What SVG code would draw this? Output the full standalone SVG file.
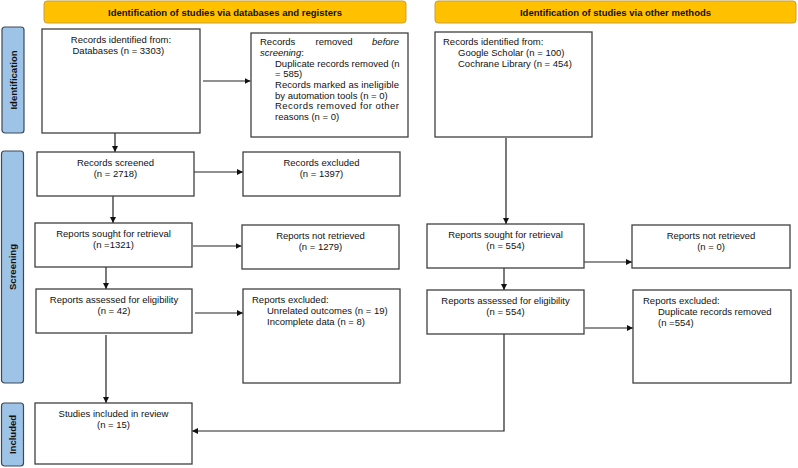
<svg xmlns="http://www.w3.org/2000/svg" width="798" height="468" viewBox="0 0 798 468">
<style>
text{font-family:"Liberation Sans",Arial,sans-serif;font-size:9.5px;fill:#111}
.b{font-weight:bold}
.c{text-anchor:middle}
.e{text-anchor:end}
.hdr{fill:#FFC000;stroke:#C9A03A;stroke-width:1}
.side{fill:#9DC3E6;stroke:#3C4A58;stroke-width:1.2}
.box{fill:#fff;stroke:#404040;stroke-width:1.3}
.ln{fill:none;stroke:#222;stroke-width:1.2}
</style>
<defs>
<marker id="ah" markerWidth="6" markerHeight="6" refX="6" refY="3" orient="auto" markerUnits="userSpaceOnUse">
<path d="M0,0 L6,3 L0,6 Z" fill="#111"/>
</marker>
</defs>
<rect width="798" height="468" fill="#fff"/>

<g id="header-left"><rect class="hdr" x="44" y="1" width="362" height="22" rx="3"/><text class="b c" x="225" y="15.5">Identification of studies via databases and registers</text></g>
<g id="header-right"><rect class="hdr" x="435" y="1" width="361" height="22" rx="3"/><text class="b c" x="615.5" y="15.5">Identification of studies via other methods</text></g>

<g id="side-identification"><rect class="side" x="2" y="27" width="22" height="106" rx="3"/><text class="b c" transform="translate(16.5,80) rotate(-90)">Identification</text></g>
<g id="side-screening"><rect class="side" x="1.5" y="151" width="22" height="232" rx="3"/><text class="b c" transform="translate(16,267) rotate(-90)">Screening</text></g>
<g id="side-included"><rect class="side" x="1.5" y="403" width="22" height="63" rx="3"/><text class="b c" transform="translate(16,434.5) rotate(-90)">Included</text></g>

<g id="connectors">
<line class="ln" x1="115" y1="133" x2="115" y2="152" marker-end="url(#ah)"/>
<line class="ln" x1="203" y1="81" x2="250.5" y2="81" marker-end="url(#ah)"/>
<line class="ln" x1="194" y1="172" x2="243" y2="172" marker-end="url(#ah)"/>
<line class="ln" x1="113" y1="196" x2="113" y2="223" marker-end="url(#ah)"/>
<line class="ln" x1="193" y1="246" x2="241.5" y2="246" marker-end="url(#ah)"/>
<line class="ln" x1="106" y1="267" x2="106" y2="289" marker-end="url(#ah)"/>
<line class="ln" x1="195" y1="313" x2="243" y2="313" marker-end="url(#ah)"/>
<line class="ln" x1="106" y1="335" x2="106" y2="403" marker-end="url(#ah)"/>
<line class="ln" x1="506" y1="138" x2="506" y2="224" marker-end="url(#ah)"/>
<line class="ln" x1="584" y1="262" x2="632" y2="262" marker-end="url(#ah)"/>
<line class="ln" x1="504" y1="268" x2="504" y2="290" marker-end="url(#ah)"/>
<line class="ln" x1="585" y1="328" x2="633" y2="328" marker-end="url(#ah)"/>
<polyline class="ln" points="504,334 504,431 192,431" marker-end="url(#ah)"/>
</g>

<g id="records-identified-db"><rect class="box" x="42" y="29" width="158" height="104"/>
<text class="c" x="121" y="43">Records identified from:</text>
<text x="72.5" y="54">Databases (n = 3303)</text></g>

<g id="records-removed"><rect class="box" x="251" y="33" width="157" height="104"/>
<text x="260" y="45">Records</text><text class="c" x="334" y="45">removed</text><text class="e" x="399" y="45" font-style="italic">before</text>
<text x="260" y="56"><tspan font-style="italic">screening</tspan>:</text>
<text x="275" y="66.5">Duplicate records removed (n</text>
<text x="275" y="77">= 585)</text>
<text x="275" y="88" textLength="124" lengthAdjust="spacing">Records marked as ineligible</text>
<text x="275" y="98.5">by automation tools (n = 0)</text>
<text x="275" y="109" textLength="124" lengthAdjust="spacing">Records removed for other</text>
<text x="275" y="120">reasons (n = 0)</text></g>

<g id="records-identified-other"><rect class="box" x="435" y="32" width="157" height="105"/>
<text x="443" y="45">Records identified from:</text>
<text x="458" y="56">Google Scholar (n = 100)</text>
<text x="458" y="67">Cochrane Library (n = 454)</text></g>

<g id="records-screened"><rect class="box" x="37" y="152" width="157" height="44"/>
<text class="c" x="115.5" y="166">Records screened</text>
<text class="c" x="115.5" y="177">(n = 2718)</text></g>

<g id="records-excluded"><rect class="box" x="243" y="152" width="157" height="44"/>
<text class="c" x="321.5" y="166">Records excluded</text>
<text class="c" x="321.5" y="177">(n = 1397)</text></g>

<g id="reports-sought-db"><rect class="box" x="35" y="223" width="157" height="44"/>
<text class="c" x="113.5" y="237">Reports sought for retrieval</text>
<text class="c" x="113.5" y="248">(n =1321)</text></g>

<g id="reports-not-retrieved-db"><rect class="box" x="242" y="225" width="157" height="44"/>
<text class="c" x="320.5" y="238.5">Reports not retrieved</text>
<text class="c" x="320.5" y="249.5">(n = 1279)</text></g>

<g id="reports-assessed-db"><rect class="box" x="36" y="289" width="156" height="44"/>
<text class="c" x="114" y="303">Reports assessed for eligibility</text>
<text class="c" x="114" y="314">(n = 42)</text></g>

<g id="reports-excluded-db"><rect class="box" x="243" y="289" width="157" height="94"/>
<text x="252" y="303">Reports excluded:</text>
<text x="267" y="314">Unrelated outcomes (n = 19)</text>
<text x="267" y="325">Incomplete data (n = 8)</text></g>

<g id="studies-included"><rect class="box" x="35" y="403" width="157" height="61"/>
<text class="c" x="113.5" y="417">Studies included in review</text>
<text class="c" x="113.5" y="428">(n = 15)</text></g>

<g id="reports-sought-other"><rect class="box" x="427" y="224" width="157" height="44"/>
<text class="c" x="505.5" y="237.5">Reports sought for retrieval</text>
<text class="c" x="505.5" y="248.5">(n = 554)</text></g>

<g id="reports-not-retrieved-other"><rect class="box" x="632" y="225" width="158" height="43"/>
<text class="c" x="711" y="238.5">Reports not retrieved</text>
<text class="c" x="711" y="249.5">(n = 0)</text></g>

<g id="reports-assessed-other"><rect class="box" x="427" y="290" width="157" height="44"/>
<text class="c" x="505.5" y="303.5">Reports assessed for eligibility</text>
<text class="c" x="505.5" y="314.5">(n = 554)</text></g>

<g id="reports-excluded-other"><rect class="box" x="633" y="290" width="158" height="93"/>
<text x="643" y="303.5">Reports excluded:</text>
<text x="658" y="315">Duplicate records removed</text>
<text x="658" y="326">(n =554)</text></g>
</svg>
